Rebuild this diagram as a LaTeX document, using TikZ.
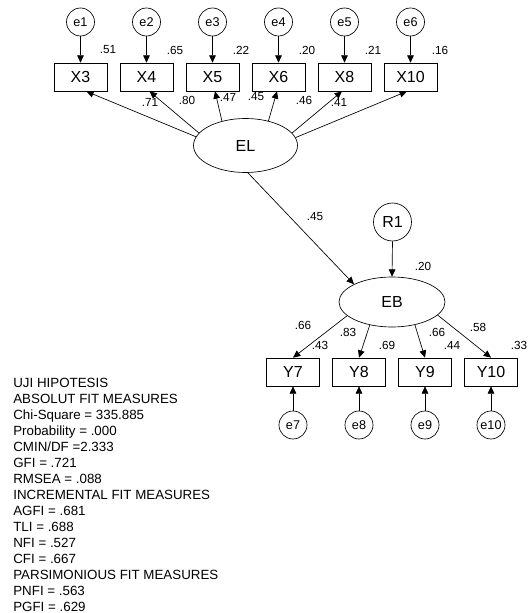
\documentclass[tikz,border=0pt]{standalone}
\usepackage{fontspec}
\setmainfont{Liberation Sans}
\usetikzlibrary{arrows.meta,shapes.geometric}
\begin{document}
\begin{tikzpicture}[x=0.75pt,y=-0.75pt,
  obs/.style={draw,rectangle,inner sep=0pt,minimum width=39.75pt,minimum height=21pt,font=\fontsize{12}{14}\selectfont},
  err/.style={draw,circle,inner sep=0pt,minimum size=21pt,font=\fontsize{9.5}{11}\selectfont},
  lat/.style={draw,ellipse,inner sep=0pt,font=\fontsize{12}{14}\selectfont},
  coef/.style={inner sep=0pt,font=\fontsize{8.8}{10}\selectfont},
  arr/.style={-{Triangle[length=5.5pt,width=5pt]},line width=0.5pt},
  line width=0.5pt]
\useasboundingbox (0,0) rectangle (528,613);
% top errors and indicators
\foreach \n/\x/\e in {X3/80.5/e1,X4/146.5/e2,X5/212.5/e3,X6/278.5/e4,X8/344.5/e5,X10/410.5/e6}{
  \node[err] (\e) at (\x,22) {\e};
  \node[obs] (\n) at (\x,77) {\n};
  \draw[arr] (\e.south) -- (\n.north);
}
\node[lat,minimum width=78pt,minimum height=40.5pt] (EL) at (245.5,145.5) {EL};
\node[lat,minimum width=79.5pt,minimum height=37.5pt] (EB) at (392,302) {EB};
\node[err,minimum size=28.5pt,font=\fontsize{12}{14}\selectfont] (R1) at (392.5,222) {R1};
\draw[arr] (EL.170) -- (X3.-68);
\draw[arr] (EL.165) -- (X4.-78);
\draw[arr] (EL.134) -- (X5.-80);
\draw[arr] (EL.47) -- (X6.-96);
\draw[arr] (EL.15) -- (X8.-100);
\draw[arr] (EL.9) -- (X10.-104);
\draw[arr] (EL.-85) -- (EB.155);
\draw[arr] (R1.south) -- (EB.north);
% bottom indicators
\foreach \n/\x/\e in {Y7/293/e7,Y8/359/e8,Y9/425/e9,Y10/491/e10}{
  \node[obs] (\n) at (\x,372) {\n};
  \node[err] (\e) at (\x,425) {\e};
  \draw[arr] (\e.north) -- (\n.south);
}
\draw[arr] (EB.-163) -- (Y7.north);
\draw[arr] (EB.-134) -- (Y8.north);
\draw[arr] (EB.-45) -- (Y9.north);
\draw[arr] (EB.-16) -- (Y10.north);
% coefficients
\foreach \t/\x/\y/\k in {.51/108/50/a1,.65/175/50/a2,.22/241/50/a3,.20/307/50/a4,.21/373/50/a5,.16/440/50/a6,
  .71/150/102/b1,.80/187/100/b2,.47/228/97/b3,.45/256/97/b4,.46/304/100/b5,.41/339/102/b6,
  .45/315/217/c1,.20/423/266/c2,
  .66/303/325/d1,.43/320/345/d2,.83/348/332/d3,.69/387/345/d4,.66/437/332/d5,.44/452/345/d6,.58/478/327/d7,.33/519/345/d8}{
  \node[coef] (\k) at (\x,\y) {\t};
}
\node[inner sep=0pt,anchor=north west,align=left,font=\fontsize{10}{12}\selectfont] (fit) at (13,378) {UJI HIPOTESIS\\
ABSOLUT FIT MEASURES\\
Chi-Square = 335.885\\
Probability = .000\\
CMIN/DF =2.333\\
GFI = .721\\
RMSEA = .088\\
INCREMENTAL FIT MEASURES\\
AGFI = .681\\
TLI = .688\\
NFI = .527\\
CFI = .667\\
PARSIMONIOUS FIT MEASURES\\
PNFI = .563\\
PGFI = .629};
\end{tikzpicture}
\end{document}
